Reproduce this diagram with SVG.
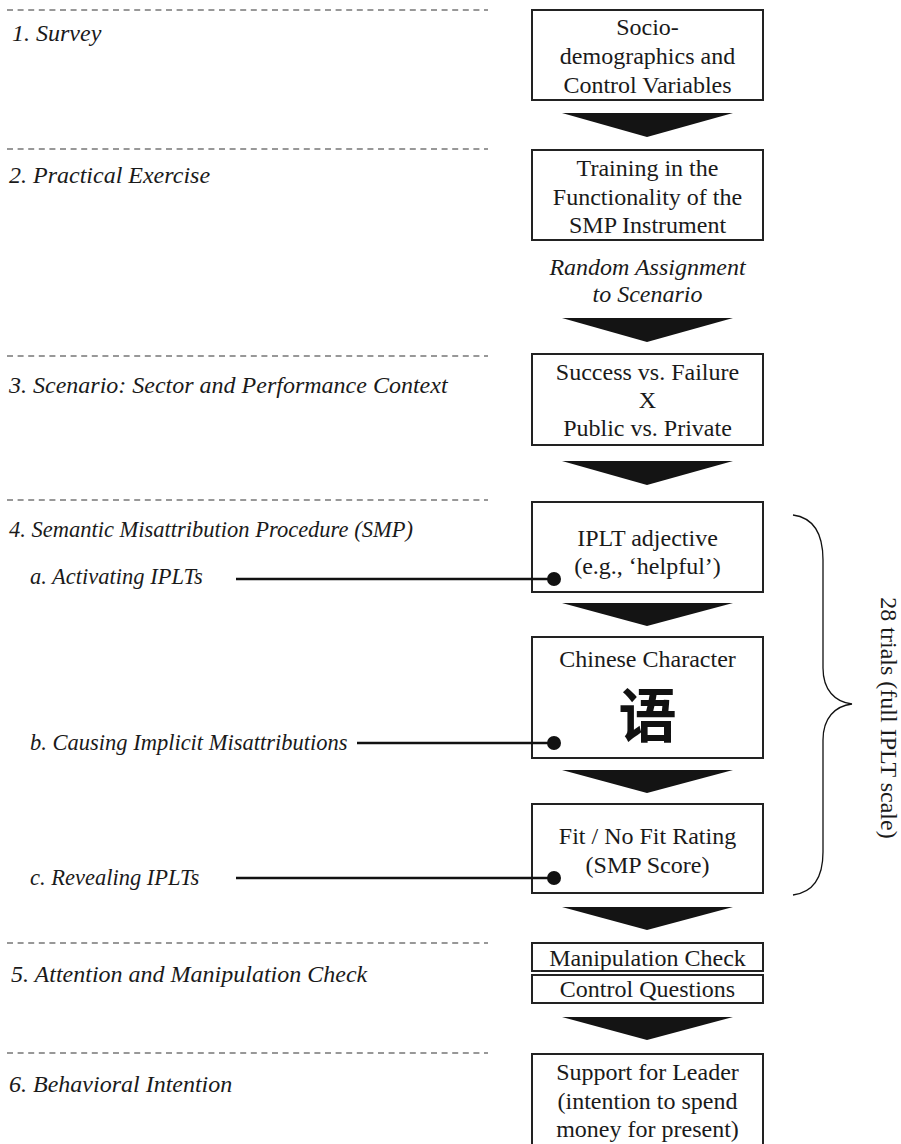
<svg xmlns="http://www.w3.org/2000/svg" width="901" height="1144" viewBox="0 0 901 1144">
<style>
.bg{fill:#fff}
.box{fill:#fff;stroke:#222;stroke-width:2}
.dash{stroke:#333;stroke-width:1.2;stroke-dasharray:6 4.6;fill:none}
.arr{fill:#141414}
.t{font-family:"Liberation Serif","Times New Roman",serif;font-size:24px;fill:#1a1a1a;text-anchor:middle}
.i{font-family:"Liberation Serif","Times New Roman",serif;font-size:24px;fill:#1a1a1a;font-style:italic}
.s{font-size:22.5px}
.ln{stroke:#111;stroke-width:2.5;fill:none}
.dot{fill:#111}
.brace{fill:none;stroke:#111;stroke-width:1.3}
</style>
<rect class="bg" x="0" y="0" width="901" height="1144"/>
<g id="stage-dividers">
<line class="dash" x1="7" y1="10" x2="488" y2="10"/>
<line class="dash" x1="7" y1="149" x2="488" y2="149"/>
<line class="dash" x1="7" y1="356" x2="488" y2="356"/>
<line class="dash" x1="7" y1="500" x2="488" y2="500"/>
<line class="dash" x1="7" y1="943" x2="488" y2="943"/>
<line class="dash" x1="7" y1="1053" x2="488" y2="1053"/>
</g>
<g id="stage-labels">
<text class="i" x="12" y="41">1. Survey</text>
<text class="i" x="9" y="183">2. Practical Exercise</text>
<text class="i" x="9" y="393">3. Scenario: Sector and Performance Context</text>
<text class="i s" x="9" y="537">4. Semantic Misattribution Procedure (SMP)</text>
<text class="i s" x="30" y="584">a. Activating IPLTs</text>
<text class="i s" x="30" y="750">b. Causing Implicit Misattributions</text>
<text class="i s" x="30" y="885">c. Revealing IPLTs</text>
<text class="i" x="11" y="982">5. Attention and Manipulation Check</text>
<text class="i" x="9" y="1092">6. Behavioral Intention</text>
</g>
<g id="node-survey">
<rect class="box" x="532" y="10" width="231" height="90"/>
<text class="t" x="647.5" y="35">Socio-</text>
<text class="t" x="647.5" y="64">demographics and</text>
<text class="t" x="647.5" y="93">Control Variables</text>
</g>
<g id="node-training">
<rect class="box" x="532" y="150" width="231" height="90"/>
<text class="t" x="647.5" y="176">Training in the</text>
<text class="t" x="647.5" y="205">Functionality of the</text>
<text class="t" x="647.5" y="233">SMP Instrument</text>
</g>
<g id="random-assignment">
<text class="t" x="647.5" y="275" font-style="italic">Random Assignment</text>
<text class="t" x="647.5" y="302" font-style="italic">to Scenario</text>
</g>
<g id="node-scenario">
<rect class="box" x="532" y="354" width="231" height="91"/>
<text class="t" x="647.5" y="380">Success vs. Failure</text>
<text class="t" x="647.5" y="408">X</text>
<text class="t" x="647.5" y="436">Public vs. Private</text>
</g>
<g id="node-iplt">
<rect class="box" x="532" y="502" width="231" height="90"/>
<text class="t" x="647.5" y="546">IPLT adjective</text>
<text class="t" x="647.5" y="574">(e.g., ‘helpful’)</text>
</g>
<g id="node-chinese">
<rect class="box" x="532" y="637" width="231" height="121"/>
<text class="t" x="647.5" y="667">Chinese Character</text>
<text x="647.5" y="737" font-family="Noto Sans CJK SC, sans-serif" font-size="58" font-weight="bold" fill="#111" text-anchor="middle">语</text>
</g>
<g id="node-rating">
<rect class="box" x="532" y="804" width="231" height="89"/>
<text class="t" x="647.5" y="844">Fit / No Fit Rating</text>
<text class="t" x="647.5" y="873">(SMP Score)</text>
</g>
<g id="node-manipulation">
<rect class="box" x="532" y="943" width="231" height="28"/>
<text class="t" x="647.5" y="966">Manipulation Check</text>
</g>
<g id="node-control">
<rect class="box" x="532" y="975" width="231" height="28"/>
<text class="t" x="647.5" y="997">Control Questions</text>
</g>
<g id="node-support">
<rect class="box" x="532" y="1054" width="231" height="100"/>
<text class="t" x="647.5" y="1080">Support for Leader</text>
<text class="t" x="647.5" y="1109">(intention to spend</text>
<text class="t" x="647.5" y="1137">money for present)</text>
</g>
<g id="trials-brace">
<path class="brace" d="M793,515 C815,518 823,535 823,560 L823,668 C823,690 835,702 852,704 C835,706 823,718 823,740 L823,852 C823,876 815,892 793,895"/>
<text class="t" transform="translate(881,718) rotate(90)">28 trials (full IPLT scale)</text>
</g>
<g id="connectors">
<polygon class="arr" points="562,113 733,113 647,137"/>
<polygon class="arr" points="562,318 733,318 647,342"/>
<polygon class="arr" points="562,461 733,461 647,485"/>
<polygon class="arr" points="562,603 733,603 647,626"/>
<polygon class="arr" points="562,770 733,770 647,793"/>
<polygon class="arr" points="562,907 733,907 647,930"/>
<polygon class="arr" points="562,1017 733,1017 647,1040"/>
<line class="ln" x1="236" y1="579" x2="554" y2="579"/>
<circle class="dot" cx="554" cy="579" r="7"/>
<line class="ln" x1="357" y1="743" x2="554" y2="743"/>
<circle class="dot" cx="554" cy="743" r="7"/>
<line class="ln" x1="236" y1="878" x2="554" y2="878"/>
<circle class="dot" cx="554" cy="878" r="7"/>
</g>
</svg>
